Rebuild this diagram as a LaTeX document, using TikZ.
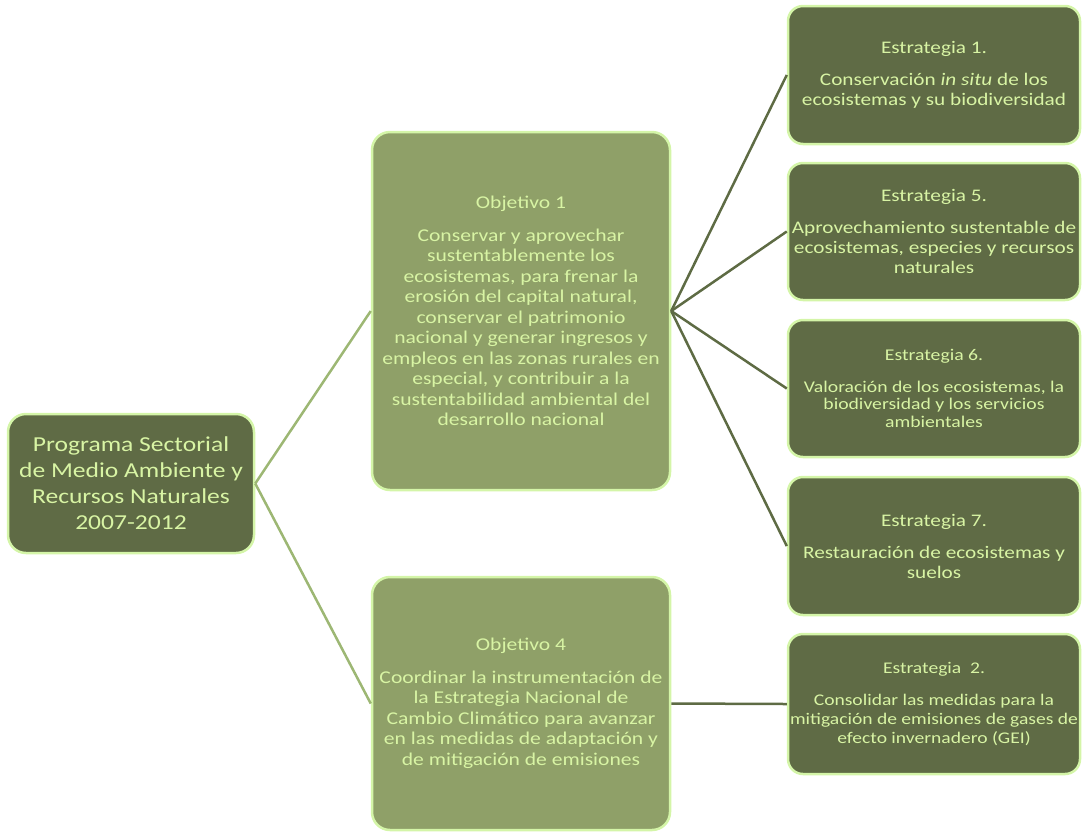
\documentclass[tikz,border=0pt]{standalone}
\usepackage{fontspec}
\setmainfont{Carlito}[FakeStretch=1.2]
\definecolor{oscuro}{HTML}{5F6B45}
\definecolor{claro}{HTML}{8FA068}
\definecolor{borde}{HTML}{D4F5A8}
\definecolor{letra}{HTML}{D8F4A4}
\definecolor{ramaclara}{HTML}{9DB774}
\definecolor{ramaoscura}{HTML}{5E6B44}
\begin{document}
\begin{tikzpicture}[
				x=1pt,
				y=-1pt,
				caja/.style={draw=borde, line width=2.5pt, rounded corners=18pt,
					text=letra, align=center, inner sep=0pt},
				programa/.style={caja, fill=oscuro, minimum width=246pt, minimum height=139pt,
					font=\fontsize{21.3}{26}\selectfont},
				objetivo/.style={caja, fill=claro, minimum width=298pt,
					font=\fontsize{18}{20.5}\selectfont},
				estrategia/.style={caja, fill=oscuro, rounded corners=15pt, minimum width=292pt,
					minimum height=138pt, font=\fontsize{17.7}{20}\selectfont},
				rama/.style={line width=2.5pt}
			]
			\useasboundingbox (0,0) rectangle (1083,831);

			% Programa
			\node[programa] (prog) at (131,483.5)
			{Programa Sectorial\\de Medio Ambiente y\\Recursos Naturales\\2007-2012};

			% Objetivos
			\node[objetivo, minimum height=358pt] (obj1) at (521,311)
			{Objetivo 1\\[12pt]
				Conservar y aprovechar\\sustentablemente los\\ecosistemas, para frenar la\\
				erosión del capital natural,\\conservar el patrimonio\\nacional y generar ingresos y\\
				empleos en las zonas rurales en\\especial, y contribuir a la\\
				sustentabilidad ambiental del\\desarrollo nacional};
			\node[objetivo, minimum height=253pt] (obj4) at (521,703.5)
			{Objetivo 4\\[12pt]
				Coordinar la instrumentación de\\la Estrategia Nacional de\\
				Cambio Climático para avanzar\\en las medidas de adaptación y\\
				de mitigación de emisiones};

			% Estrategias
			\node[estrategia] (e1) at (934,75)
			{Estrategia 1.\\[12pt]Conservación \textit{in situ} de los\\ecosistemas y su biodiversidad};
			\node[estrategia, minimum height=137pt] (e5) at (934,231.5)
			{Estrategia 5.\\[12pt]Aprovechamiento sustentable de\\ecosistemas, especies y recursos\\naturales};
			\node[estrategia, minimum height=137pt, font=\fontsize{16.4}{17.5}\selectfont] (e6) at (934,388.5)
			{Estrategia 6.\\[14pt]Valoración de los ecosistemas, la\\biodiversidad y los servicios\\ambientales};
			\node[estrategia] (e7) at (934,546)
			{Estrategia 7.\\[12pt]Restauración de ecosistemas y\\suelos};
			\node[estrategia, minimum height=140pt, font=\fontsize{16.3}{19}\selectfont] (e2) at (934,704)
			{Estrategia\ \ 2.\\[13pt]Consolidar las medidas para la\\mitigación de emisiones de gases de\\efecto invernadero (GEI)};

			% Conectores
			\draw[rama, ramaclara] (prog.east) -- (obj1.west);
			\draw[rama, ramaclara] (prog.east) -- (obj4.west);
			\foreach \e in {e1,e5,e6,e7}
				\draw[rama, ramaoscura] (obj1.east) -- (\e.west);
			\draw[rama, ramaoscura] (obj4.east) -- (e2.west);

		\end{tikzpicture}
\end{document}
